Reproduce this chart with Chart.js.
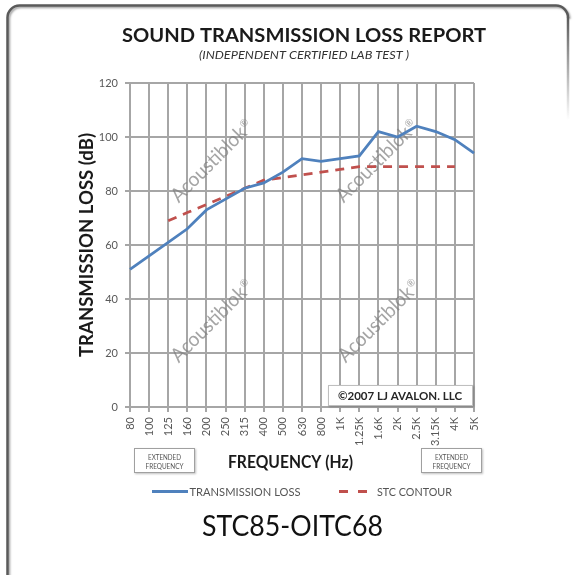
<!DOCTYPE html>
<html>
<head>
<meta charset="utf-8">
<title>Sound Transmission Loss Report</title>
<script src="https://cdn.jsdelivr.net/npm/chart.js@4.4.1/dist/chart.umd.min.js"></script>
<style>
  html, body { margin: 0; padding: 0; background: #fff; }
  #wrap { position: relative; width: 576px; height: 575px; }
</style>
</head>
<body>
<div id="wrap"><canvas id="chart-stl" width="576" height="575"></canvas></div>
<script>
// Frequency bands (Hz) along the x axis
const frequencies = ['80', '100', '125', '160', '200', '250', '315', '400', '500', '630',
  '800', '1K', '1.25K', '1.6K', '2K', '2.5K', '3.15K', '4K', '5K'];

// Measured transmission loss (dB)
const transmissionLoss = [51, 56, 61, 66, 73, 77, 81, 83, 87, 92,
  91, 92, 93, 102, 100, 104, 102, 99, 94];

// STC 85 reference contour (dB), 125 Hz – 4 kHz
const stcContour = [null, null, 69, 72, 75, 78, 81, 84, 85, 86,
  87, 88, 89, 89, 89, 89, 89, 89, null];

// Y axis range
const yMin = 0;
const yMax = 120;
const yStep = 20;

const FONT = 'Lato, "Open Sans", sans-serif';
const BLUE = '#4f81bd';
const RED = '#c0504d';
const GRID = '#a6a6a6';

/**
 * Draw text at a font size, squeezed to span a given width
 * (the original used a narrower face)
 */
function fitText(ctx, text, style, size, width, x, y, align) {
  ctx.font = `${style} ${size}px ${FONT}`;
  const w = ctx.measureText(text).width;
  ctx.save();
  ctx.translate(x, y);
  ctx.scale(width / w, 1);
  ctx.textAlign = align || 'center';
  ctx.fillText(text, 0, 0);
  ctx.restore();
}

function boxWithShadow(ctx, x, y, w, h, stroke) {
  ctx.save();
  ctx.shadowColor = 'rgba(0,0,0,0.25)';
  ctx.shadowBlur = 2;
  ctx.shadowOffsetX = 1;
  ctx.shadowOffsetY = 1;
  ctx.fillStyle = '#fff';
  ctx.fillRect(x, y, w, h);
  ctx.restore();
  ctx.strokeStyle = stroke;
  ctx.lineWidth = 1;
  ctx.strokeRect(x + 0.5, y + 0.5, w - 1, h - 1);
}

/**
 * Watermarks and the copyright box sit above the grid, under the lines
 */
const underlayPlugin = {
  id: 'underlay',
  beforeDatasetsDraw(chart) {
    const ctx = chart.ctx;
    ctx.save();

    // Watermarks
    const marks = [[213, 160], [378, 160], [213, 320], [380, 320]];
    marks.forEach(([cx, cy]) => {
      ctx.save();
      ctx.translate(cx, cy);
      ctx.rotate(-Math.PI / 4);
      ctx.fillStyle = 'rgba(125,125,125,0.7)';
      ctx.textBaseline = 'middle';
      fitText(ctx, 'Acoustiblok', 'normal', 20, 98, -55, 0, 'left');
      ctx.font = `normal 10px ${FONT}`;
      ctx.textAlign = 'left';
      ctx.fillText('®', 44, -4);
      ctx.restore();
    });

    // Copyright box
    boxWithShadow(ctx, 328, 385, 145, 21, '#bfbfbf');
    ctx.fillStyle = '#262626';
    ctx.textBaseline = 'alphabetic';
    fitText(ctx, '©2007 LJ AVALON. LLC', 'bold', 11.5, 124, 400, 400);

    ctx.restore();
  }
};

/**
 * Titles, legend, captions and the frame
 */
const overlayPlugin = {
  id: 'overlay',
  afterDraw(chart) {
    const ctx = chart.ctx;
    ctx.save();
    ctx.textBaseline = 'alphabetic';

    // Title and subtitle
    ctx.fillStyle = '#1a1a1a';
    fitText(ctx, 'SOUND TRANSMISSION LOSS REPORT', 'bold', 18.5, 364, 304, 42);
    ctx.fillStyle = '#333';
    fitText(ctx, '(INDEPENDENT CERTIFIED LAB TEST )', 'italic', 10.5, 210, 304, 59);

    // Axis titles
    ctx.fillStyle = '#1a1a1a';
    ctx.save();
    ctx.translate(93, 245);
    ctx.rotate(-Math.PI / 2);
    fitText(ctx, 'TRANSMISSION LOSS (dB)', 'bold', 18, 224, 0, 0);
    ctx.restore();
    fitText(ctx, 'FREQUENCY (Hz)', 'bold', 16.5, 125, 290.5, 468);

    // Extended frequency boxes
    [134, 421].forEach(x => {
      boxWithShadow(ctx, x, 448, 61, 25, '#a0a0a0');
      ctx.fillStyle = '#555';
      fitText(ctx, 'EXTENDED', 'normal', 7, 33, x + 30.5, 460);
      fitText(ctx, 'FREQUENCY', 'normal', 7, 38, x + 30.5, 469);
    });

    // Legend
    const ds = chart.data.datasets;
    ctx.lineWidth = 3;
    ctx.strokeStyle = ds[0].borderColor;
    ctx.beginPath();
    ctx.moveTo(152, 491.5);
    ctx.lineTo(188, 491.5);
    ctx.stroke();
    ctx.strokeStyle = ds[1].borderColor;
    ctx.setLineDash([9, 10]);
    ctx.beginPath();
    ctx.moveTo(339, 491.5);
    ctx.lineTo(368, 491.5);
    ctx.stroke();
    ctx.setLineDash([]);
    ctx.fillStyle = '#555';
    fitText(ctx, ds[0].label, 'normal', 10.5, 111, 189.5, 495.5, 'left');
    fitText(ctx, ds[1].label, 'normal', 10.5, 75, 377, 495.5, 'left');

    // Big rating
    ctx.fillStyle = '#111';
    fitText(ctx, 'STC85-OITC68', 'normal', 29, 181, 292.5, 536);

    // Frame
    ctx.save();
    ctx.shadowColor = 'rgba(0,0,0,0.35)';
    ctx.shadowBlur = 2;
    ctx.shadowOffsetX = 1.5;
    ctx.shadowOffsetY = 1.5;
    ctx.strokeStyle = '#5a5a5a';
    ctx.lineWidth = 2.5;
    ctx.beginPath();
    ctx.moveTo(7.5, 590);
    ctx.lineTo(7.5, 17);
    ctx.arcTo(7.5, 5.5, 19.5, 5.5, 12);
    ctx.lineTo(556, 5.5);
    ctx.arcTo(568, 5.5, 568, 17.5, 12);
    ctx.stroke();
    ctx.restore();
    const fade = ctx.createLinearGradient(0, 17, 0, 120);
    fade.addColorStop(0, '#5a5a5a');
    fade.addColorStop(1, 'rgba(90,90,90,0)');
    ctx.strokeStyle = fade;
    ctx.lineWidth = 2.5;
    ctx.beginPath();
    ctx.moveTo(568, 17);
    ctx.lineTo(568, 120);
    ctx.stroke();

    ctx.restore();
  }
};

const ctx = document.getElementById('chart-stl');

new Chart(ctx, {
  type: 'line',
  data: {
    labels: frequencies,
    datasets: [{
      label: 'TRANSMISSION LOSS',
      data: transmissionLoss,
      borderColor: BLUE,
      borderWidth: 2.75,
      pointRadius: 0,
      tension: 0
    }, {
      label: 'STC CONTOUR',
      data: stcContour,
      borderColor: RED,
      borderWidth: 2.75,
      borderDash: [9, 7],
      pointRadius: 0,
      tension: 0
    }]
  },
  options: {
    responsive: false,
    animation: false,
    events: [],
    layout: {
      padding: { left: 80, right: 102, top: 83, bottom: 0 }
    },
    plugins: {
      legend: { display: false },
      title: { display: false },
      tooltip: { enabled: false }
    },
    scales: {
      x: {
        type: 'category',
        offset: false,
        grid: { color: GRID, lineWidth: 2, tickLength: 5 },
        border: { color: GRID, width: 2 },
        ticks: {
          autoSkip: false,
          minRotation: 90,
          maxRotation: 90,
          padding: 5,
          color: '#595959',
          font: { family: FONT, size: 11 }
        },
        afterFit(scale) {
          scale.height = 168;
          scale.paddingLeft = 0;
          scale.paddingRight = 0;
        }
      },
      y: {
        min: yMin,
        max: yMax,
        grid: { color: GRID, lineWidth: 2, tickLength: 5 },
        border: { color: GRID, width: 2 },
        ticks: {
          stepSize: yStep,
          padding: 7,
          color: '#595959',
          font: { family: FONT, size: 11 }
        },
        afterFit(scale) {
          scale.width = 50;
        }
      }
    }
  },
  plugins: [underlayPlugin, overlayPlugin]
});
</script>
</body>
</html>
